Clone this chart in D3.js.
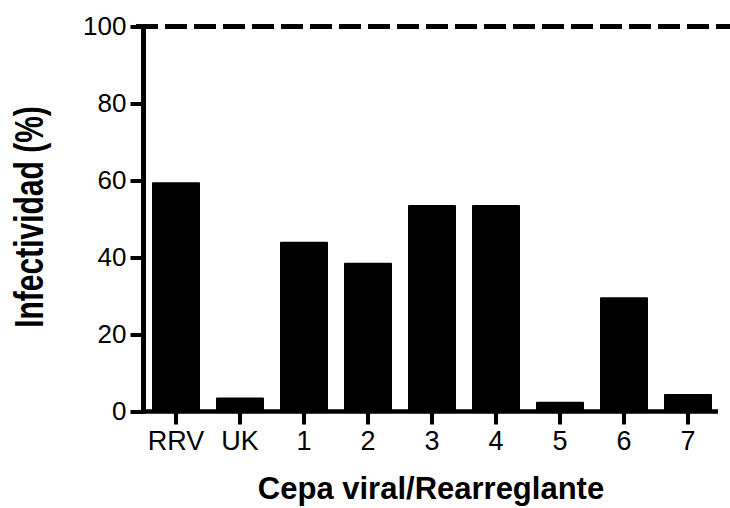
<!DOCTYPE html>
<html>
<head>
<meta charset="utf-8">
<script src="https://cdn.jsdelivr.net/npm/d3@7"></script>
<style>
  body { margin: 0; background: #fff; }
  svg { display: block; font-family: "Liberation Sans", Arial, sans-serif; }
</style>
</head>
<body>
<div id="chart"></div>
<script>
// data
var strains = ["RRV", "UK", "1", "2", "3", "4", "5", "6", "7"];
var infectivity = [59.3, 3.4, 43.8, 38.4, 53.4, 53.4, 2.3, 29.4, 4.3];
var yTicks = [0, 20, 40, 60, 80, 100];
var referenceLevel = 100;

var width = 730, height = 508;

var svg = d3.select("#chart")
  .append("svg")
  .attr("width", width)
  .attr("height", height);

var x = d3.scaleBand()
  .domain(strains)
  .range([144, 720])
  .paddingInner(0.25)
  .paddingOuter(0.125);

var y = d3.scaleLinear()
  .domain([0, 100])
  .range([411.5, 26.5]);

// dashed 100% reference line
svg.append("line")
  .attr("x1", 136)
  .attr("x2", width)
  .attr("y1", y(referenceLevel))
  .attr("y2", y(referenceLevel))
  .attr("stroke", "#000")
  .attr("stroke-width", 5)
  .attr("stroke-dasharray", "22,7");

// bars
svg.selectAll("rect.bar")
  .data(strains)
  .enter()
  .append("rect")
  .attr("class", "bar")
  .attr("x", function (d) { return x(d) + 1; })
  .attr("width", x.bandwidth() - 2)
  .attr("y", function (d, i) { return y(infectivity[i]); })
  .attr("height", function (d, i) { return y(0) - y(infectivity[i]); })
  .attr("fill", "#000")
  .attr("stroke", "#000")
  .attr("stroke-width", 2)
  .attr("stroke-linejoin", "round");

// x axis
var xAxis = svg.append("g")
  .attr("transform", "translate(0," + y(0) + ")")
  .call(d3.axisBottom(x).tickSize(13).tickSizeOuter(0).tickPadding(6));
xAxis.select(".domain")
  .attr("stroke-width", 4.5)
  .attr("d", "M" + 141 + ",0H718");
xAxis.selectAll(".tick line").attr("stroke-width", 4);
xAxis.selectAll(".tick text")
  .attr("fill", "#000")
  .style("font-size", "27px");

// y axis
var yAxis = svg.append("g")
  .attr("transform", "translate(143.5,0)")
  .call(d3.axisLeft(y).tickValues(yTicks).tickSize(13).tickSizeOuter(0).tickPadding(4));
yAxis.select(".domain")
  .attr("stroke-width", 5)
  .attr("d", "M0," + (y(100) - 2) + "V" + (y(0) + 2));
yAxis.selectAll(".tick line").attr("stroke-width", 4);
yAxis.selectAll(".tick text")
  .attr("fill", "#000")
  .style("font-size", "26px");

// axis titles
svg.append("text")
  .attr("x", 431)
  .attr("y", 499)
  .attr("text-anchor", "middle")
  .style("font-size", "31px")
  .style("font-weight", "bold")
  .text("Cepa viral/Rearreglante");

// the y title in the reference is drawn with taller glyphs than its length suggests
svg.append("text")
  .attr("transform", "translate(43,217) rotate(-90) scale(1,1.35)")
  .attr("text-anchor", "middle")
  .style("font-size", "30px")
  .style("font-weight", "bold")
  .text("Infectividad (%)");
</script>
</body>
</html>
